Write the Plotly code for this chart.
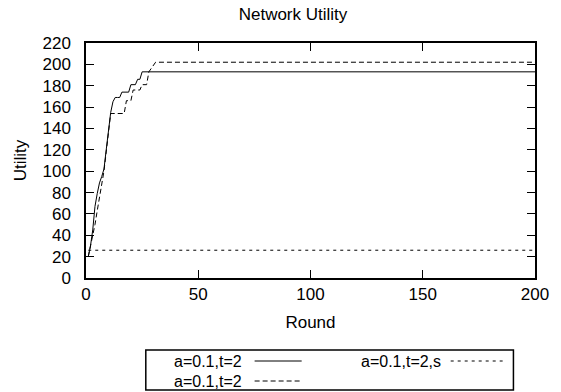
import plotly.graph_objects as go

# ---- data ----
rounds_a = [1, 2, 3, 4, 5, 6, 7, 8, 9, 10, 11, 12, 13, 14, 15, 16, 17, 18, 19, 20,
            21, 22, 23, 24, 25, 200]
util_a = [20, 30, 45, 67, 79, 89, 95, 102, 120, 138, 155, 165, 169, 169, 169, 174, 174, 174, 174, 181,
          181, 181, 186, 186, 193, 193]

rounds_b = [1, 2, 3, 4, 5, 6, 7, 8, 9, 10, 11, 12, 13, 14, 15, 16, 17, 18, 19, 20,
            21, 22, 23, 24, 25, 26, 27, 28, 29, 30, 31, 200]
util_b = [20, 30, 38, 50, 63, 76, 88, 100, 118, 138, 154, 154, 154, 154, 154, 154, 154, 166, 166, 166,
          176, 176, 176, 176, 181, 181, 181, 193, 196, 199, 202, 202]

rounds_s = [1, 200]
util_s = [26, 26]

labels = ["a=0.1,t=2", "a=0.1,t=2", "a=0.1,t=2,s"]
dashes = ["solid", "5px,3px", "3px,4px"]

x_ticks = [0, 50, 100, 150, 200]
y_ticks = list(range(0, 221, 20))

FONT = "Liberation Sans, Arial, Helvetica, sans-serif"
FS = 17
LFS = 16

fig = go.Figure()
for xs, ys, name, dash in zip([rounds_a, rounds_b, rounds_s], [util_a, util_b, util_s], labels, dashes):
    fig.add_trace(go.Scatter(x=xs, y=ys, mode="lines", name=name,
                             line=dict(color="black", width=1, dash=dash), showlegend=False))

# plot area in pixels: x 86..544, y 43..278
L, R, T, B = 86, 544, 43, 278
W, H = 561, 392
def px(x):
    return (x - L) / (R - L)
def py(y):
    return (B - y) / (B - T)

axis_common = dict(showline=True, linecolor="black", linewidth=1.5, mirror="ticks",
                   ticks="inside", ticklen=8, tickwidth=1, tickcolor="black",
                   showgrid=False, zeroline=False,
                   tickfont=dict(family=FONT, size=FS, color="black"))

fig.update_xaxes(range=[0, 200], tickvals=x_ticks, ticklabelstandoff=0,
                 title=dict(text="Round", font=dict(family=FONT, size=FS, color="black"), standoff=13),
                 **axis_common)
fig.update_yaxes(range=[0, 220], tickvals=y_ticks, ticklabelstandoff=10,
                 title=dict(text="Utility", font=dict(family=FONT, size=FS, color="black"), standoff=12),
                 **axis_common)

# legend box drawn manually (gnuplot style key below the plot)
shapes = [dict(type="rect", xref="paper", yref="paper",
               x0=px(147), x1=px(522), y0=py(390), y1=py(350),
               line=dict(color="black", width=1.5), fillcolor="white", layer="above")]
annotations = []
legend_rows = [(labels[0], dashes[0], 247, 258, 306, 361),
               (labels[1], dashes[1], 247, 258, 306, 381),
               (labels[2], dashes[2], 450, 458, 511, 361)]
for text, dash, tx, s0, s1, yy in legend_rows:
    annotations.append(dict(text=text, xref="paper", yref="paper", x=px(tx), y=py(yy),
                            xanchor="right", yanchor="middle", showarrow=False,
                            font=dict(family=FONT, size=LFS, color="black")))
    shapes.append(dict(type="line", xref="paper", yref="paper",
                       x0=px(s0), x1=px(s1), y0=py(yy), y1=py(yy),
                       line=dict(color="black", width=1, dash=dash)))

fig.update_layout(
    width=W, height=H,
    margin=dict(l=L, r=W - R, t=T, b=H - B),
    paper_bgcolor="white", plot_bgcolor="white",
    title=dict(text="Network Utility", x=293 / W, xanchor="center", y=1 - 14 / H, yanchor="middle",
               font=dict(family=FONT, size=FS, color="black")),
    shapes=shapes, annotations=annotations,
    showlegend=False,
)

fig.write_html("out.html")
